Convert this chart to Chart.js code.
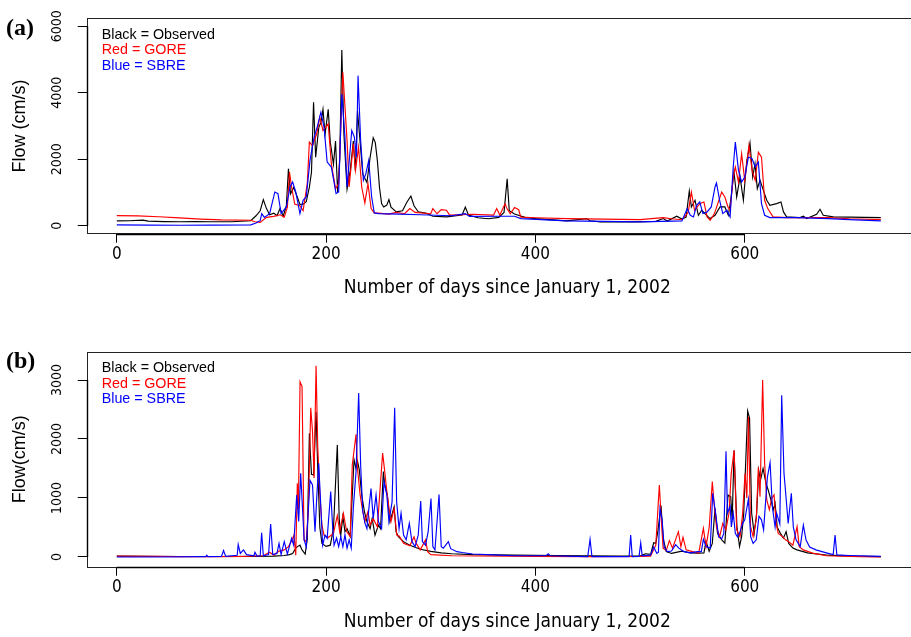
<!DOCTYPE html>
<html><head><meta charset="utf-8">
<script src="https://cdn.jsdelivr.net/npm/chart.js@4/dist/chart.umd.min.js"></script>
<style>
html,body{margin:0;padding:0;background:#fff;overflow:hidden;width:911px;height:637px}
#wrap{position:relative;width:911px;height:637px;overflow:hidden;background:#fff}
canvas{position:absolute;left:0}
</style></head><body>
<div id="wrap">
<canvas id="ca" width="935" height="318" style="top:0px"></canvas>
<canvas id="cb" width="935" height="319" style="top:318px"></canvas>
</div>
<script>
// ---------- tick labels / text ----------
const xTicks = [0, 200, 400, 600];
const yTicksA = [0, 2000, 4000, 6000];
const yTicksB = [0, 1000, 2000, 3000];
const xTitle = 'Number of days since January 1, 2002';
const legendLines = ['Black = Observed', 'Red = GORE', 'Blue = SBRE'];

// ---------- panel (a) : [day, flow] ----------
const obsA = [[0,145],[12,150],[25,170],[30,140],[45,125],[60,120],[75,125],[90,118],[110,120],[128,150],
[133,300],[137,450],[140,785],[143,515],[146,330],[150,380],[153,300],[156,520],[159,285],[162,600],[164,1715],[166,960],[169,1150],[172,900],[175,640],[178,650],[181,720],[184,1160],[186,1600],[188,3715],[190,2060],[193,2960],[195,3100],[197,3500],[199,2750],[202,3500],[204,2500],[205,2300],[207,1850],[209,2550],[211,1000],[213,2000],[215,5285],[217,2750],[220,1100],[223,1650],[226,2550],[228,1650],[230,3450],[232,2700],[235,1550],[239,1300],[242,2050],[245,2645],[247,2500],[249,1950],[251,1150],[253,665],[255,565],[258,620],[260,785],[262,560],[267,415],[273,450],[277,700],[281,895],[284,600],[288,420],[295,380],[302,285],[315,265],[330,320],[333,560],[336,320],[345,240],[355,210],[365,250],[370,400],[373,1415],[375,450],[380,350],[390,250],[400,215],[430,145],[449,215],[452,150],[462,115],[494,115],[515,130],[522,215],[526,140],[535,285],[540,200],[544,260],[547,1045],[549,565],[552.5,765],[555.7,315],[558.9,465],[562,365],[566.8,215],[571.6,315],[576.4,565],[581,565],[584.3,315],[586.6,765],[589.7,1615],[592.3,865],[595.5,1465],[598.7,765],[601.8,1915],[605,2495],[607.6,1465],[609.8,1865],[612,1115],[614.6,1365],[617.8,1065],[621,765],[624,615],[630.5,665],[634.6,715],[637,415],[640,265],[652.8,245],[656,285],[659.2,215],[668.7,345],[671.9,495],[675,315],[684.6,265],[730,245]];

const goreA = [[0,305],[20,295],[40,270],[60,235],[80,200],[100,175],[128,165],[132,120],[137,100],[143,250],[150,280],[156,330],[160,260],[163,560],[165,1615],[167,1165],[170,650],[175,600],[178,450],[182,1265],[184,2515],[187,2400],[191,2765],[194,3265],[197,2865],[202,3065],[205,1865],[209,1115],[212,1260],[216,4615],[220,2565],[222,1165],[226,2465],[228,1665],[231,2365],[234,1165],[237,685],[240,1265],[243,515],[246,385],[250,380],[260,350],[267,400],[275,360],[280,515],[285,400],[300,360],[302,515],[306,360],[310,485],[315,465],[318,320],[330,330],[340,345],[360,320],[363,515],[366,320],[371,665],[373,500],[376,360],[380,545],[384,480],[386,260],[400,240],[430,215],[500,185],[522,245],[530,210],[540,180],[546,400],[549,1015],[552,465],[557,665],[561,715],[564,265],[567,165],[571,365],[578,1015],[581,865],[584,565],[586,465],[589,1465],[591,1765],[594,1315],[597,2165],[600,1365],[604,2415],[607,1665],[610,1365],[613,2215],[616,2065],[619,765],[622,515],[627,265],[640,245],[680,245],[700,210],[730,185]];

const sbreA = [[0,25],[30,20],[60,15],[90,20],[128,25],[133,80],[137,150],[138.5,365],[141,250],[146,365],[151,1015],[154,965],[157,365],[162,565],[165.5,1165],[168,1315],[171,1015],[175,365],[178,765],[181,865],[184.6,1965],[188.5,2665],[191,2915],[195,3415],[198,2965],[201,1915],[205,1765],[209.5,965],[212,1015],[215,3965],[218,2665],[220,1165],[224.5,2865],[227,2665],[229,2065],[230.5,4515],[233,2565],[235.6,1365],[238,1565],[240.7,1965],[243.5,865],[246,385],[250,365],[270,350],[290,330],[320,300],[333,365],[337,280],[370,285],[380,285],[386,215],[430,145],[500,115],[540,145],[545,515],[548,315],[551,265],[554,615],[557,715],[560,365],[564,415],[568,565],[571.6,1165],[573,1285],[576,765],[579,365],[583,465],[586,265],[589,1765],[591,2515],[594,1665],[597,1315],[600,1465],[603.5,2065],[607,2015],[610,1765],[613,1915],[616,665],[619,315],[624,245],[650,245],[680,215],[700,185],[730,145]];

// ---------- panel (b) : [day, flow] ----------
const obsB = [[0,15],[30,12],[60,8],[100,8],[130,10],[150,15],[160,25],[165,40],[168,60],[171,150],[173,180],[175,200],[177,120],[180,50],[182,300],[184,2095],[186,1400],[188,1390],[190.4,2463],[192,1500],[194,500],[196,230],[200,180],[204,200],[207,480],[210.7,1900],[212.5,650],[214,370],[216,685],[218,430],[220,480],[223,350],[226.7,1650],[228.5,1510],[230,1620],[231.7,1480],[234,1050],[236.6,770],[239,600],[242,480],[244,650],[246.7,370],[250,540],[252,480],[254.7,1450],[256,1220],[258.5,1050],[261,600],[265,850],[266.8,430],[269,345],[274,260],[280,200],[290,130],[300,95],[310,70],[320,55],[340,40],[380,30],[420,25],[450,20],[480,15],[500,15],[505,55],[510,45],[513,240],[515,230],[517,440],[520,870],[522,320],[525,90],[530,60],[540,100],[548,70],[555,65],[561,70],[563,265],[566,95],[569,230],[571.6,825],[574,400],[578,290],[581,235],[584,1050],[586.6,1020],[588,630],[589.8,1800],[592.5,520],[595,175],[597,345],[599,730],[602.8,2475],[604.6,2350],[606.6,740],[609,400],[611.4,740],[613.3,1475],[615,1300],[617.5,1500],[620.3,1250],[622.5,1130],[625,970],[627.3,800],[629,910],[631,510],[634,400],[637,320],[639.5,430],[642,230],[646,150],[650,120],[660,70],[680,30],[700,15],[730,5]];

const goreB = [[0,15],[30,12],[60,5],[100,5],[120,8],[140,20],[146,80],[150,30],[155,100],[160,120],[164,175],[167,270],[169.3,370],[171,30],[172.5,1250],[173.5,800],[175.1,2970],[177,2890],[178.9,290],[181,260],[183,800],[185.3,2530],[187,2130],[188.5,1340],[190.4,3240],[192,1870],[194,1060],[196,540],[198,370],[202,330],[207,400],[210.7,700],[213,430],[216.5,740],[219.6,430],[223,345],[225,1560],[228.6,2080],[230,1500],[232.4,1060],[234.6,820],[237,600],[240,770],[242,540],[245,650],[249,510],[254,1760],[256,1450],[258,1110],[260.5,770],[262,600],[265,820],[267.5,370],[270,350],[274,230],[280,190],[284,340],[286,230],[290,120],[295,290],[297,90],[300,40],[320,20],[400,10],[450,5],[500,10],[510,15],[515,200],[518.4,1220],[520,712],[522,150],[525,110],[528,277],[531,150],[536.6,429],[539,175],[541,333],[544,120],[550,90],[556,65],[560.5,486],[563,175],[566,500],[569,1277],[571,850],[573,510],[576,345],[579,570],[582,460],[585,750],[587,1400],[589.8,1814],[592.3,460],[595.5,345],[598,740],[600.3,1418],[602,1000],[603.5,2379],[605.5,520],[608,345],[611,630],[613,1520],[614.6,1020],[617.1,3000],[619,1590],[621,970],[623.5,800],[625.7,994],[628,1051],[630,570],[632,400],[636,345],[639,290],[642,260],[646,200],[650,514],[652,175],[656,120],[666,60],[678,20],[710,5],[730,0]];

const sbreB = [[0,0],[40,0],[80,5],[85,5],[86,30],[87,5],[100,10],[102,110],[104,10],[115,30],[116,210],[118,60],[121,120],[124,40],[131,20],[132,80],[134,15],[137,20],[138.4,410],[140,20],[145,40],[147,560],[149,40],[153,60],[155,230],[157,40],[160,260],[163,50],[167,315],[169,200],[171.9,1050],[173.8,600],[175.7,1420],[177.3,870],[179,290],[181,170],[184.6,1300],[187,1220],[189.4,430],[191,990],[192.9,1590],[195,830],[196.7,200],[199,370],[201,315],[204.4,1110],[206.3,485],[207.6,200],[210,320],[212,175],[214,345],[216,175],[218,375],[220,150],[222,290],[224,150],[226,830],[228.6,1450],[231.1,2780],[233,1560],[235,770],[237.2,570],[239,480],[241.3,900],[242.9,1160],[245,650],[247.7,1050],[250,600],[253,480],[255.3,1280],[258,1050],[260,600],[263,930],[265.5,2530],[267.4,930],[269.7,480],[271.6,740],[274,370],[276.5,290],[279.5,570],[282,260],[285,175],[288,370],[290.4,950],[292,260],[295,200],[297.5,430],[300.2,990],[302,175],[304,120],[307.9,1060],[310,175],[312,150],[316.8,260],[319,140],[325,90],[330,75],[340,50],[360,35],[380,20],[410,20],[412.3,55],[414,20],[440,10],[450,5],[452.2,300],[454,5],[489.5,5],[491,370],[492.5,5],[499,10],[500.6,240],[502,20],[510,30],[513,170],[516,60],[517.5,80],[519,820],[521,640],[523,170],[526,90],[530,100],[534,210],[537,150],[542,90],[548,70],[555,90],[558.5,90],[560.5,300],[563,175],[567,150],[569.4,1080],[572,760],[575,340],[578,310],[580,400],[582.1,1790],[583.5,740],[586,860],[587.2,510],[589,740],[591,400],[593,340],[595,400],[598,570],[600,630],[603.5,980],[605.7,340],[608,230],[611,290],[613.6,690],[616,630],[618,460],[621.6,1350],[624.2,1600],[626.4,850],[629,510],[630.5,740],[633.5,560],[635.3,2740],[637.5,1420],[639.4,1020],[641.5,570],[644.5,1080],[646.4,510],[649,290],[653,175],[656,540],[658.5,290],[662,170],[668,120],[678,70],[684.5,40],[686.3,370],[688,35],[700,25],[730,10]];

// ---------- drawing ----------
const NARROW = "'DejaVu Sans Condensed','Liberation Sans Narrow','Liberation Sans',sans-serif";
const SANS = "'Liberation Sans',Arial,sans-serif";

function toXY(arr){ return arr.map(p => ({x:p[0], y:p[1]})); }

function makePanel(id, cfg){
  const boxPlugin = {
    id: 'rbox',
    afterDraw(chart){
      const {ctx, chartArea:a} = chart;
      ctx.save();
      ctx.strokeStyle = '#222'; ctx.lineWidth = 1;
      ctx.strokeRect(Math.round(a.left)+0.5, Math.round(a.top)+0.5, Math.round(a.right-a.left), Math.round(a.bottom-a.top));
      const xs = chart.scales.x, ys = chart.scales.y;
      ctx.strokeStyle = '#000'; ctx.lineWidth = 1.4;
      ctx.beginPath();
      ctx.moveTo(xs.getPixelForValue(xTicks[0]), Math.round(a.bottom)+0.5);
      ctx.lineTo(xs.getPixelForValue(xTicks[xTicks.length-1]), Math.round(a.bottom)+0.5);
      ctx.moveTo(Math.round(a.left)+0.5, ys.getPixelForValue(cfg.yTicks[0]));
      ctx.lineTo(Math.round(a.left)+0.5, ys.getPixelForValue(cfg.yTicks[cfg.yTicks.length-1]));
      ctx.stroke();
      ctx.font = '14.3px ' + SANS;
      ctx.textAlign = 'left'; ctx.textBaseline = 'alphabetic';
      const cols = ['#000000', '#ff0000', '#0000ff'];
      legendLines.forEach((t, i) => {
        ctx.fillStyle = cols[i];
        ctx.fillText(t, a.left + 15, a.top + 20.7 + i * 15.35);
      });
      ctx.fillStyle = '#000';
      ctx.font = 'bold 24px "Liberation Serif","Times New Roman",serif';
      ctx.fillText(cfg.letter, 6, a.top + 16.5);
      ctx.restore();
    }
  };
  const H = cfg.canvasH;
  return new Chart(document.getElementById(id), {
    type: 'line',
    data: {
      datasets: [
        {label:'SBRE', data: toXY(cfg.sbre), borderColor:'#0000ff', borderWidth:1.15},
        {label:'GORE', data: toXY(cfg.gore), borderColor:'#ff0000', borderWidth:1.15},
        {label:'Observed', data: toXY(cfg.obs), borderColor:'#000000', borderWidth:1.15}
      ]
    },
    options: {
      responsive: false, animation: false, devicePixelRatio: 1,
      events: [],
      elements: { point: { radius: 0 }, line: { tension: 0, fill: false } },
      layout: { padding: { top: cfg.boxTop, left: 0, right: 935 - 927.9, bottom: 0 } },
      plugins: { legend: { display: false }, tooltip: { enabled: false } },
      scales: {
        x: {
          type: 'linear', min: -28.76, max: 775,
          afterBuildTicks: s => { s.ticks = xTicks.map(v => ({value: v})); },
          afterFit: s => { s.height = H - cfg.boxBottom; },
          grid: { drawOnChartArea: false, drawTicks: true, tickLength: 9, color: '#000', lineWidth: 1 },
          border: { display: false },
          ticks: { color: '#000', font: { family: NARROW, size: 17 }, padding: 2, maxRotation: 0, autoSkip: false, callback: v => String(v) },
          title: { display: true, text: xTitle, color: '#000', font: { family: NARROW, size: 19, lineHeight: 1.2 }, padding: { top: 0, bottom: cfg.xTitlePad } }
        },
        y: {
          type: 'linear', min: cfg.yMin, max: cfg.yMax,
          afterBuildTicks: s => { s.ticks = cfg.yTicks.map(v => ({value: v})); },
          afterFit: s => { s.width = 86.7; },
          grid: { drawOnChartArea: false, drawTicks: true, tickLength: 9, color: '#000', lineWidth: 1 },
          border: { display: false },
          ticks: { color: '#000', font: { family: NARROW, size: 14 }, padding: 4, minRotation: 90, maxRotation: 90, crossAlign: 'center', autoSkip: false, callback: v => String(v) },
          title: { display: true, text: cfg.yTitle, color: '#000', font: { family: SANS, size: 18, lineHeight: 1.2 }, padding: { top: 9, bottom: 0 } }
        }
      }
    },
    plugins: [boxPlugin]
  });
}

makePanel('ca', { canvasH: 318, boxTop: 18.3, boxBottom: 233.7, yMin: -240, yMax: 6240, yTicks: yTicksA,
  yTitle: 'Flow (cm/s)', letter: '(a)', xTitlePad: 19, obs: obsA, gore: goreA, sbre: sbreA });
makePanel('cb', { canvasH: 319, boxTop: 33.7, boxBottom: 248.7, yMin: -165, yMax: 3480, yTicks: yTicksB,
  yTitle: 'Flow(cm/s)', letter: '(b)', xTitlePad: 3.5, obs: obsB, gore: goreB, sbre: sbreB });
</script>
</body></html>
